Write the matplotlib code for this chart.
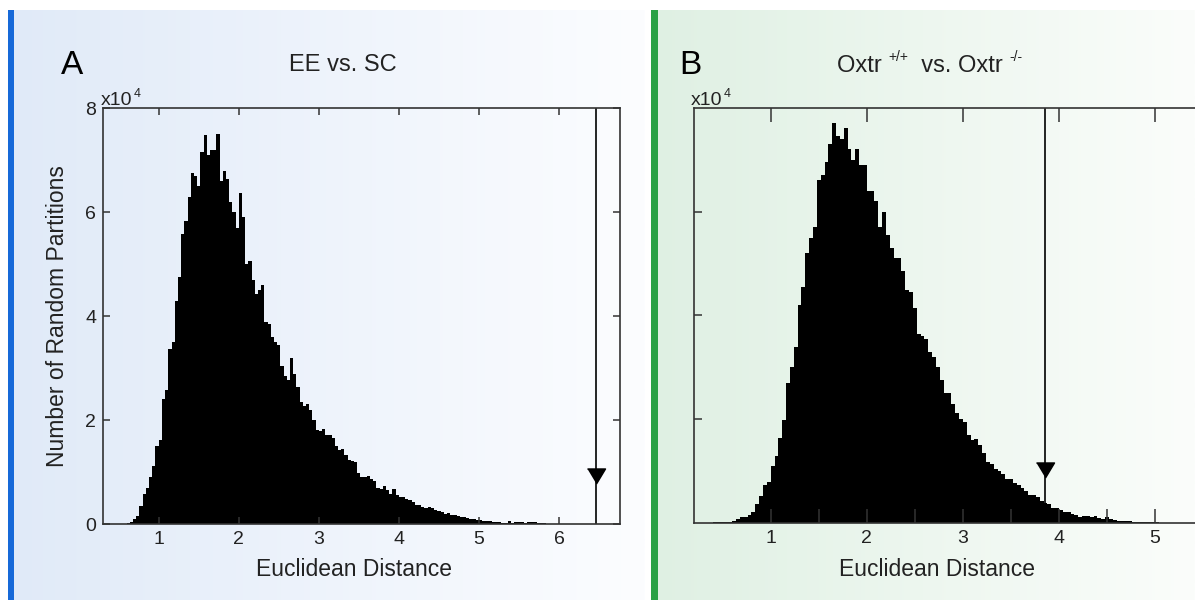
import numpy as np
import matplotlib
matplotlib.use("Agg")
import matplotlib.pyplot as plt
from matplotlib.colors import to_rgb
from matplotlib.patches import Rectangle

plt.rcParams['font.family'] = ['Liberation Sans', 'DejaVu Sans']

# histogram counts (x10^4), bin width 0.04
binw = 0.04
a_start = 0.60
a_counts = [0.02, 0.05, 0.10, 0.16, 0.35, 0.58, 0.70, 0.90, 1.13, 1.50,
            1.62, 2.40, 2.58, 3.37, 3.50, 4.30, 4.75, 5.58, 5.84, 6.30,
            6.75, 6.70, 6.50, 7.15, 7.48, 7.10, 7.20, 7.20, 7.50, 6.60,
            6.80, 6.64, 6.20, 6.00, 5.70, 6.38, 5.90, 5.00, 5.07, 4.70,
            4.43, 4.50, 4.60, 3.90, 3.85, 3.60, 3.50, 3.45, 3.05, 2.85,
            2.78, 3.20, 2.90, 2.65, 2.35, 2.28, 2.32, 2.20, 2.00, 1.82,
            1.80, 1.84, 1.71, 1.72, 1.66, 1.50, 1.42, 1.45, 1.34, 1.24,
            1.22, 1.20, 0.98, 0.91, 0.90, 0.93, 0.88, 0.83, 0.70, 0.68,
            0.74, 0.66, 0.58, 0.67, 0.56, 0.53, 0.52, 0.48, 0.46, 0.42,
            0.38, 0.37, 0.33, 0.32, 0.33, 0.31, 0.28, 0.25, 0.24, 0.20,
            0.22, 0.17, 0.18, 0.16, 0.14, 0.14, 0.13, 0.11, 0.11, 0.09,
            0.09, 0.07, 0.07, 0.06, 0.05, 0.05, 0.04, 0.03, 0.03, 0.06,
            0.03, 0.04, 0.04, 0.04, 0.03, 0.04, 0.04, 0.04, 0.03, 0.02,
            0.02, 0.01]
b_start = 0.40
b_counts = [0.02, 0.02, 0.02, 0.03, 0.03, 0.04, 0.08, 0.12, 0.13, 0.16,
            0.22, 0.37, 0.52, 0.74, 0.80, 1.10, 1.30, 1.65, 1.98, 2.70,
            3.00, 3.40, 4.20, 4.55, 5.20, 5.50, 5.70, 6.60, 6.70, 6.95,
            7.30, 7.70, 7.45, 7.40, 7.60, 7.20, 7.00, 7.20, 6.90, 6.90,
            6.40, 6.40, 6.20, 5.70, 6.00, 5.55, 5.30, 5.10, 5.10, 4.85,
            4.50, 4.45, 4.15, 3.65, 3.60, 3.55, 3.30, 3.20, 3.00, 2.75,
            2.50, 2.50, 2.30, 2.12, 2.00, 1.95, 1.70, 1.60, 1.62, 1.50,
            1.35, 1.18, 1.15, 1.05, 1.00, 0.95, 0.85, 0.85, 0.78, 0.74,
            0.68, 0.62, 0.55, 0.54, 0.50, 0.43, 0.40, 0.37, 0.30, 0.30,
            0.26, 0.22, 0.22, 0.18, 0.16, 0.13, 0.15, 0.14, 0.12, 0.15,
            0.11, 0.08, 0.13, 0.08, 0.06, 0.05, 0.05, 0.04, 0.04, 0.03,
            0.03, 0.03, 0.02, 0.02, 0.02, 0.02, 0.015, 0.015, 0.015, 0.01,
            0.01, 0.01, 0.01, 0.01]
a_observed = 6.462
b_observed = 3.857
a_marker_y = 0.92
b_marker_y = 1.025

W, H = 1195, 600
fig = plt.figure(figsize=(W / 100, H / 100), dpi=100)
fig.patch.set_facecolor('white')

# panel backgrounds
bg = fig.add_axes([0, 0, 1, 1], zorder=-5)
bg.set_xlim(0, W)
bg.set_ylim(H, 0)
bg.axis('off')

def gradient(c1, c2):
    t = np.linspace(0, 1, 256)[None, :, None]
    return (1 - t) * np.array(to_rgb(c1)) + t * np.array(to_rgb(c2))

bg.imshow(gradient('#e0eaf8', '#fcfdff'), extent=(8, 645, 600, 10), aspect='auto')
bg.imshow(gradient('#dff0e3', '#fbfdfb'), extent=(651, W, 600, 10), aspect='auto')
bg.add_patch(Rectangle((8, 10), 6, 590, color='#1769d8', lw=0))
bg.add_patch(Rectangle((651, 10), 7, 590, color='#2aa146', lw=0))

spine_c = '#333333'

def style(ax, ticklen):
    for s in ax.spines.values():
        s.set_color(spine_c)
        s.set_linewidth(1.2)
    ax.set_facecolor('none')
    ax.tick_params(which='both', direction='in', length=ticklen, width=1.1,
                   color=spine_c, labelsize=14, labelcolor='#222222', pad=5)

# panel A
axA = fig.add_axes([103.3 / W, 1 - 524.3 / H, 516.7 / W, 416.0 / H])
edgesA = a_start + binw * np.arange(len(a_counts))
axA.bar(edgesA, a_counts, width=binw, align='edge', color='black', lw=0)
axA.set_xlim(0.308, 6.762)
axA.set_ylim(0, 8)
axA.set_xticks([1, 2, 3, 4, 5, 6])
axA.set_yticks([0, 2, 4, 6, 8])
style(axA, 5)
axA.tick_params(top=True, right=True)
axA.axvline(a_observed, color='black', lw=1.2)
tri = [(-0.6, 0.5), (0.6, 0.5), (0, -0.5)]
axA.plot([a_observed], [a_marker_y], marker=tri, ms=13, color='black', ls='none')

# panel B
axB = fig.add_axes([694 / W, 1 - 523.3 / H, 521 / W, 415.6 / H])
edgesB = b_start + binw * np.arange(len(b_counts))
axB.bar(edgesB, b_counts, width=binw, align='edge', color='black', lw=0)
axB.set_xlim(0.202, 5.623)
axB.set_ylim(0, 8)
axB.set_xticks([1, 2, 3, 4, 5])
axB.set_xticks([1.5, 2.5, 3.5, 4.5], minor=True)
axB.set_yticks([2, 4, 6])
style(axB, 10)
axB.tick_params(axis='y', length=6, labelleft=False)
axB.tick_params(axis='x', which='major', top=True)
axB.axvline(b_observed, color='black', lw=1.2)
axB.plot([b_observed], [b_marker_y], marker=tri, ms=13, color='black', ls='none')

# texts
def fx(px):
    return px / W

def fy(py):
    return 1 - py / H

tc = '#222222'
fig.text(fx(101), fy(105), 'x10', fontsize=14, color=tc, va='baseline')
fig.text(fx(134), fy(97), '4', fontsize=9, color=tc, va='baseline')
fig.text(fx(691), fy(105), 'x10', fontsize=14, color=tc, va='baseline')
fig.text(fx(724), fy(97), '4', fontsize=9, color=tc, va='baseline')

fig.text(fx(72), fy(65), 'A', fontsize=24, color='black', ha='center', va='center')
fig.text(fx(690), fy(65), 'B', fontsize=24, color='black', ha='center', va='center')
fig.text(fx(343), fy(65), 'EE vs. SC', fontsize=17, color=tc, ha='center', va='center')

t1 = fig.text(fx(837), fy(72), 'Oxtr ', fontsize=17, color=tc, va='baseline')
t2 = axB.annotate('+/+', xy=(1, 0.6), xycoords=t1, fontsize=10, color=tc,
                  va='bottom', annotation_clip=False)
t3 = axB.annotate('  vs. Oxtr ', xy=(1, 0), xycoords=(t2, t1), fontsize=17, color=tc,
                  va='bottom', annotation_clip=False)
t4 = axB.annotate('-/-', xy=(1, 0.6), xycoords=t3, fontsize=10, color=tc,
                  va='bottom', annotation_clip=False)

fig.text(fx(58), fy(316), 'Number of Random Partitions', fontsize=16.5, color=tc,
         rotation=90, ha='center', va='center')
fig.text(fx(354), fy(570), 'Euclidean Distance', fontsize=16.5, color=tc, ha='center', va='center')
fig.text(fx(937), fy(570), 'Euclidean Distance', fontsize=16.5, color=tc, ha='center', va='center')

fig.savefig('out.png', dpi=100)
